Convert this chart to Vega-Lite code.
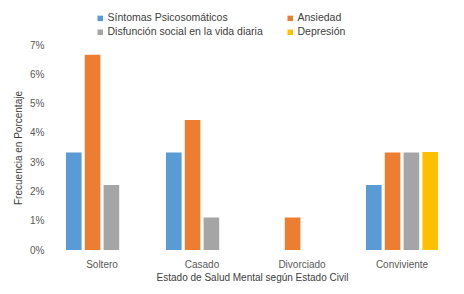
{
  "$schema": "https://vega.github.io/schema/vega-lite/v6.json",
  "width": 400,
  "height": 205,
  "autosize": {"type": "none"},
  "padding": {"left": 52, "top": 45, "right": 12, "bottom": 44},
  "background": "white",
  "config": {
    "font": "Liberation Sans",
    "view": {"stroke": null},
    "axis": {"labelColor": "#595959", "titleColor": "#404040", "labelFontSize": 10, "titleFontSize": 10, "titleFontWeight": "normal"}
  },
  "data": {
    "values": [
      {"estado": "Soltero", "serie": "Síntomas Psicosomáticos", "valor": 0.0333},
      {"estado": "Soltero", "serie": "Ansiedad", "valor": 0.0667},
      {"estado": "Soltero", "serie": "Disfunción social en la vida diaria", "valor": 0.0222},
      {"estado": "Soltero", "serie": "Depresión", "valor": 0},
      {"estado": "Casado", "serie": "Síntomas Psicosomáticos", "valor": 0.0333},
      {"estado": "Casado", "serie": "Ansiedad", "valor": 0.0444},
      {"estado": "Casado", "serie": "Disfunción social en la vida diaria", "valor": 0.0111},
      {"estado": "Casado", "serie": "Depresión", "valor": 0},
      {"estado": "Divorciado", "serie": "Síntomas Psicosomáticos", "valor": 0},
      {"estado": "Divorciado", "serie": "Ansiedad", "valor": 0.0111},
      {"estado": "Divorciado", "serie": "Disfunción social en la vida diaria", "valor": 0},
      {"estado": "Divorciado", "serie": "Depresión", "valor": 0},
      {"estado": "Conviviente", "serie": "Síntomas Psicosomáticos", "valor": 0.0222},
      {"estado": "Conviviente", "serie": "Ansiedad", "valor": 0.0333},
      {"estado": "Conviviente", "serie": "Disfunción social en la vida diaria", "valor": 0.0333},
      {"estado": "Conviviente", "serie": "Depresión", "valor": 0.0335}
    ]
  },
  "mark": {"type": "bar"},
  "encoding": {
    "x": {
      "field": "estado", "type": "nominal",
      "sort": ["Soltero", "Casado", "Divorciado", "Conviviente"],
      "scale": {"paddingInner": 0.28, "paddingOuter": 0.14},
      "axis": {"title": "Estado de Salud Mental según Estado Civil", "labelAngle": 0, "ticks": false, "domain": false, "labelPadding": 9, "titlePadding": 3}
    },
    "xOffset": {
      "field": "serie", "type": "nominal",
      "sort": ["Síntomas Psicosomáticos", "Ansiedad", "Disfunción social en la vida diaria", "Depresión"],
      "scale": {"paddingInner": 0.17, "paddingOuter": 0}
    },
    "y": {
      "field": "valor", "type": "quantitative",
      "scale": {"domain": [0, 0.07], "nice": false},
      "axis": {"title": "Frecuencia en Porcentaje", "format": ".0%", "values": [0, 0.01, 0.02, 0.03, 0.04, 0.05, 0.06, 0.07], "grid": false, "ticks": false, "domain": false, "labelPadding": 8, "titlePadding": 6}
    },
    "color": {
      "field": "serie", "type": "nominal",
      "sort": ["Síntomas Psicosomáticos", "Ansiedad", "Disfunción social en la vida diaria", "Depresión"],
      "scale": {"domain": ["Síntomas Psicosomáticos", "Ansiedad", "Disfunción social en la vida diaria", "Depresión"], "range": ["#5B9BD5", "#ED7D31", "#A5A5A5", "#FFC000"]},
      "legend": {
        "title": null, "orient": "none", "legendX": 43, "legendY": -32, "direction": "horizontal",
        "columns": 2, "columnPadding": 22, "rowPadding": 3,
        "symbolType": "square", "symbolSize": 30, "symbolStrokeWidth": 0,
        "labelFontSize": 10.5, "labelColor": "#404040", "labelOffset": 2, "labelLimit": 300
      }
    }
  }
}
